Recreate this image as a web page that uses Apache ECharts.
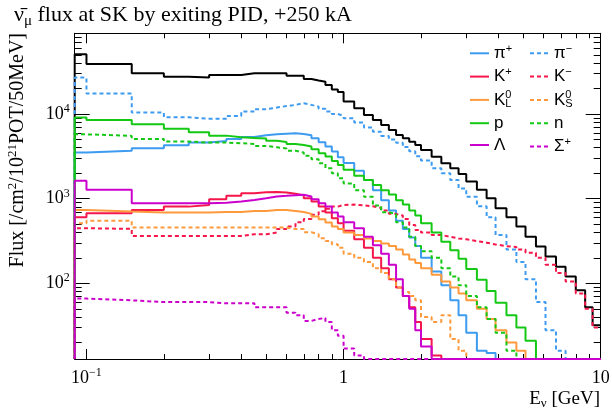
<!DOCTYPE html>
<html><head><meta charset="utf-8">
<script src="https://cdn.jsdelivr.net/npm/echarts@6/dist/echarts.min.js"></script>
<style>html,body{margin:0;padding:0;background:#fff}#c{width:612px;height:412px}</style>
</head><body><div id="c"></div>
<script>
// ---- data (bin edges in GeV, flux per bin) ----
const edges = [0.09, 0.1, 0.15, 0.2, 0.25, 0.3, 0.35, 0.4, 0.45, 0.5, 0.55, 0.6, 0.65, 0.7, 0.75, 0.8, 0.85, 0.9, 0.95, 1.0,
  1.1, 1.2, 1.3, 1.4, 1.5, 1.6, 1.7, 1.8, 1.9, 2.0, 2.2, 2.4, 2.6, 2.8, 3.0, 3.3, 3.6, 3.9, 4.3, 4.7, 5.1, 5.6, 6.1, 6.7, 7.3, 8.0, 8.7, 9.3, 10.0];

const total = [50700, 39000, 30200, 27600, 26900, 28900, 28900, 30200,
  30200, 30200, 30200, 28300, 28300, 25900, 24800, 24000,
  22000, 19500, 18200, 14000, 11700, 9730, 8490, 7410,
  6470, 5650, 5160, 4710, 4310, 3760, 3130, 2610,
  2280, 1960, 1590, 1270, 1010, 769, 603, 468,
  356, 272, 207, 157, 120, 83, 52, 32];
const piPlus = [3500, 3690, 3940, 4270, 4590, 4800, 5070, 5360,
  5600, 5750, 5860, 5920, 5810, 5600, 5160, 4630,
  4120, 3600, 3080, 2630, 2140, 1660, 1260, 955,
  724, 550, 437, 347, 275, 200, 138, 95,
  63, 42, 26, 16, 15, 0, 0, 0,
  0, 0, 0, 0, 0, 0, 0, 0];
const piMinus = [26900, 17500, 10400, 9140, 8810, 8810, 9480, 10700,
  11400, 11900, 12400, 12800, 13400, 12800, 12200, 11500,
  10700, 10000, 9480, 8910, 7940, 6920, 6170, 5500,
  5010, 4570, 4070, 3630, 3160, 2820, 2290, 2000,
  1660, 1320, 1050, 813, 603, 372, 251, 178,
  112, 60, 28, 16, 0, 0, 0, 0];
const kPlus = [603, 673, 736, 805, 843, 984, 1080, 1160,
  1190, 1200, 1180, 1140, 1100, 1010, 925, 805,
  684, 586, 512, 417, 331, 263, 200, 151,
  112, 89, 71, 52, 35, 22, 14, 0,
  0, 0, 0, 0, 0, 0, 0, 0,
  0, 0, 0, 0, 0, 0, 0, 0];
const kMinus = [447, 440, 363, 363, 363, 363, 363, 380,
  380, 398, 437, 468, 525, 575, 646, 708,
  759, 805, 843, 851, 832, 813, 776, 724,
  661, 631, 575, 490, 427, 398, 372, 355,
  339, 331, 316, 302, 288, 275, 269, 251,
  229, 200, 166, 132, 105, 76, 50, 30];
const k0L = [736, 703, 684, 684, 684, 697, 697, 716,
  716, 736, 736, 716, 697, 661, 614, 571,
  521, 468, 437, 398, 372, 339, 316, 295,
  275, 251, 219, 191, 174, 151, 126, 105,
  89, 76, 63, 50, 38, 28, 20, 16,
  0, 0, 0, 0, 0, 0, 0, 0];
const k0S = [512, 550, 457, 457, 457, 457, 457, 457,
  457, 457, 457, 437, 437, 400, 380, 340,
  316, 290, 263, 224, 200, 178, 151, 132,
  112, 89, 79, 71, 63, 40, 35, 42,
  22, 16, 0, 0, 0, 0, 0, 0,
  0, 0, 0, 0, 0, 0, 0, 0];
const proton = [9060, 8490, 7550, 6710, 6080, 5550, 5310, 5210,
  5120, 4840, 4680, 4430, 4310, 4120, 3830, 3440,
  3140, 2790, 2500, 2190, 1860, 1660, 1450, 1260,
  1120, 955, 851, 724, 631, 513, 398, 309,
  245, 195, 148, 110, 81, 59, 42, 30,
  21, 0, 0, 0, 0, 0, 0, 0];
const neutron = [5750, 5510, 5070, 4720, 4590, 4590, 4510, 4430,
  4190, 4050, 3900, 3690, 3500, 3200, 2920, 2620,
  2290, 2000, 1740, 1510, 1260, 1050, 832, 692,
  661, 525, 457, 355, 275, 240, 200, 151,
  120, 95, 71, 52, 38, 26, 16, 0,
  0, 0, 0, 0, 0, 0, 0, 0];
const lambda0 = [1630, 1270, 883, 883, 883, 897, 923, 966,
  1010, 1060, 1080, 1100, 1110, 1060, 984, 883,
  805, 684, 614, 525, 447, 355, 282, 224,
  166, 112, 71, 50, 28, 18, 0, 0,
  0, 0, 0, 0, 0, 0, 0, 0,
  0, 0, 0, 0, 0, 0, 0, 0];
const sigmaPlus = [66, 63, 60, 60, 60, 58, 58, 58,
  52, 52, 52, 45, 42, 36, 38, 39,
  35, 28, 24, 17, 14, 0, 0, 0,
  0, 0, 0, 0, 0, 0, 0, 0,
  0, 0, 0, 0, 0, 0, 0, 0,
  0, 0, 0, 0, 0, 0, 0, 0];

const xMajorTicks = [0.1, 1, 10];
const xMinorTicks = [0.2, 0.3, 0.4, 0.5, 0.6, 0.7, 0.8, 0.9, 2, 3, 4, 5, 6, 7, 8, 9];
const yMajorTicks = [100, 1000, 10000];
const yMinorTicks = [20, 30, 40, 50, 60, 70, 80, 90, 200, 300, 400, 500, 600, 700, 800, 900,
  2000, 3000, 4000, 5000, 6000, 7000, 8000, 9000, 20000, 30000, 40000, 50000, 60000, 70000, 80000];

const X_MIN = 0.09, X_MAX = 10, Y_MIN = 12.77, Y_MAX = 89700;

const C_PI = '#3d9bf0', C_K = '#f5164a', C_K0 = '#ff9a3c', C_P = '#14c814', C_L = '#cc00cc';
const DASH = [4, 3];

const seriesDefs = [
  {name: 'total', vals: total, color: '#000000', dash: 'solid'},
  {name: 'pi+', vals: piPlus, color: C_PI, dash: 'solid'},
  {name: 'pi-', vals: piMinus, color: C_PI, dash: DASH},
  {name: 'K+', vals: kPlus, color: C_K, dash: 'solid'},
  {name: 'K-', vals: kMinus, color: C_K, dash: DASH},
  {name: 'K0L', vals: k0L, color: C_K0, dash: 'solid'},
  {name: 'K0S', vals: k0S, color: C_K0, dash: DASH},
  {name: 'p', vals: proton, color: C_P, dash: 'solid'},
  {name: 'n', vals: neutron, color: C_P, dash: DASH},
  {name: 'Lambda', vals: lambda0, color: C_L, dash: 'solid'},
  {name: 'Sigma+', vals: sigmaPlus, color: C_L, dash: DASH}
];

const legendLeftCol = ['pi+', 'K+', 'K0L', 'p', 'Lambda'];
const legendRightCol = ['pi-', 'K-', 'K0S', 'n', 'Sigma+'];
const legendLabels = {
  'pi+': '{m|π}{sup|+}', 'pi-': '{m|π}{sup|−}',
  'K+': '{m|K}{sup|+}', 'K-': '{m|K}{sup|−}',
  'K0L': '{m|K}{zs|0}{sub|L}', 'K0S': '{m|K}{zs|0}{sub|S}',
  'p': '{m|p}', 'n': '{m|n}',
  'Lambda': '{m|Λ}', 'Sigma+': '{m|Σ}{sup|+}'
};

function histData(vals) {
  const d = [[edges[0], Y_MIN]];
  for (let i = 0; i < vals.length; i++) d.push([edges[i], vals[i] > 0 ? vals[i] : Y_MIN]);
  const last = vals[vals.length - 1];
  d.push([edges[edges.length - 1], last > 0 ? last : Y_MIN]);
  return d;
}

const SERIF = '"Liberation Serif", "DejaVu Serif", serif';
const SANS = '"Liberation Sans", Arial, sans-serif';

function expLabel(v) {
  const e = Math.round(Math.log10(v));
  if (e === 0) return '{n|1}';
  if (e === 1) return '{n|10}';
  return '{n|10}{sup|' + (e < 0 ? '−' : '') + Math.abs(e) + '}';
}
const labelRich = {
  n: {fontFamily: SERIF, fontSize: 18, color: '#000', lineHeight: 22},
  sup: {fontFamily: SERIF, fontSize: 12, color: '#000', lineHeight: 12, verticalAlign: 'top'}
};

function logAxis(pos, isX, major, withLabels, length, showLine) {
  return {
    type: 'log', logBase: 10, position: pos,
    min: isX ? X_MIN : Y_MIN, max: isX ? X_MAX : Y_MAX,
    splitLine: {show: false}, minorTick: {show: false},
    axisLine: {show: showLine, onZero: false, lineStyle: {color: '#000', width: 1}},
    axisTick: {show: true, inside: true, length: length, customValues: major, lineStyle: {color: '#000', width: 1}},
    axisLabel: withLabels ? {show: true, customValues: major, formatter: expLabel, rich: labelRich, margin: isX ? 8 : 5} : {show: false},
    axisPointer: {show: false}
  };
}

const legendRich = {
  m: {fontFamily: SANS, fontSize: 17, color: '#000', lineHeight: 20},
  sup: {fontFamily: SANS, fontSize: 11, color: '#000', lineHeight: 11, verticalAlign: 'top'},
  sub: {fontFamily: SANS, fontSize: 11, color: '#000', lineHeight: 11, verticalAlign: 'bottom'},
  zs: {fontFamily: SANS, fontSize: 11, color: '#000', lineHeight: 11, verticalAlign: 'top', width: 0}
};
function makeLegend(names, left) {
  return {
    data: names, left: left, top: 43.3, orient: 'vertical',
    itemWidth: 19, itemHeight: 20, itemGap: 4.8, padding: 0,
    selectedMode: false,
    itemStyle: {opacity: 0},
    formatter: name => legendLabels[name],
    textStyle: {color: '#000', rich: legendRich}
  };
}

const chart = echarts.init(document.getElementById('c'), null, {renderer: 'canvas'});
chart.setOption({
  animation: false,
  backgroundColor: '#fff',
  textStyle: {fontFamily: SERIF},
  title: {
    text: '{a|ν̄}{s|μ}{a| flux at SK by exiting PID, +250 kA}',
    left: 14, top: 1, padding: 0,
    textStyle: {fontWeight: 'normal', rich: {
      a: {fontFamily: SERIF, fontSize: 22, fontWeight: 'normal', color: '#000', lineHeight: 28},
      s: {fontFamily: SERIF, fontSize: 15, fontWeight: 'normal', color: '#000', lineHeight: 15, verticalAlign: 'bottom'}
    }}
  },
  grid: {left: 74.7, right: 11.3, top: 33.3, bottom: 53, containLabel: false, outerBoundsMode: 'none'},
  xAxis: [
    logAxis('bottom', true, xMajorTicks, true, 10, true),
    logAxis('bottom', true, xMinorTicks, false, 5, false),
    logAxis('top', true, xMajorTicks, false, 10, true),
    logAxis('top', true, xMinorTicks, false, 5, false)
  ],
  yAxis: [
    logAxis('left', false, yMajorTicks, true, 15, true),
    logAxis('left', false, yMinorTicks, false, 7, false),
    logAxis('right', false, yMajorTicks, false, 15, true),
    logAxis('right', false, yMinorTicks, false, 7, false)
  ],
  legend: [makeLegend(legendLeftCol, 469), makeLegend(legendRightCol, 529)],
  graphic: [
    {type: 'text', x: 18, y: 33, rotation: Math.PI / 2,
      style: {text: '{a|Flux [/cm}{s|2}{a|/10}{s|21}{a|POT/50MeV]}', textAlign: 'right', textVerticalAlign: 'middle',
        rich: {a: {fontFamily: SERIF, fontSize: 20, fill: '#000', lineHeight: 24},
               s: {fontFamily: SERIF, fontSize: 13, fill: '#000', lineHeight: 13, verticalAlign: 'top'}}}},
    {type: 'text', x: 600, y: 410,
      style: {text: '{a|E}{s|ν}{a| [GeV]}', textAlign: 'right', textVerticalAlign: 'bottom',
        rich: {a: {fontFamily: SERIF, fontSize: 19, fill: '#000', lineHeight: 22},
               s: {fontFamily: SERIF, fontSize: 13, fill: '#000', lineHeight: 13, verticalAlign: 'bottom'}}}}
  ],
  series: seriesDefs.map(s => ({
    name: s.name, type: 'line', step: 'end', xAxisIndex: 0, yAxisIndex: 0,
    data: histData(s.vals), showSymbol: false, symbol: 'none', clip: true,
    lineStyle: {color: s.color, width: 2, type: s.dash},
    itemStyle: {color: s.color},
    emphasis: {disabled: true}
  }))
});
</script></body></html>
